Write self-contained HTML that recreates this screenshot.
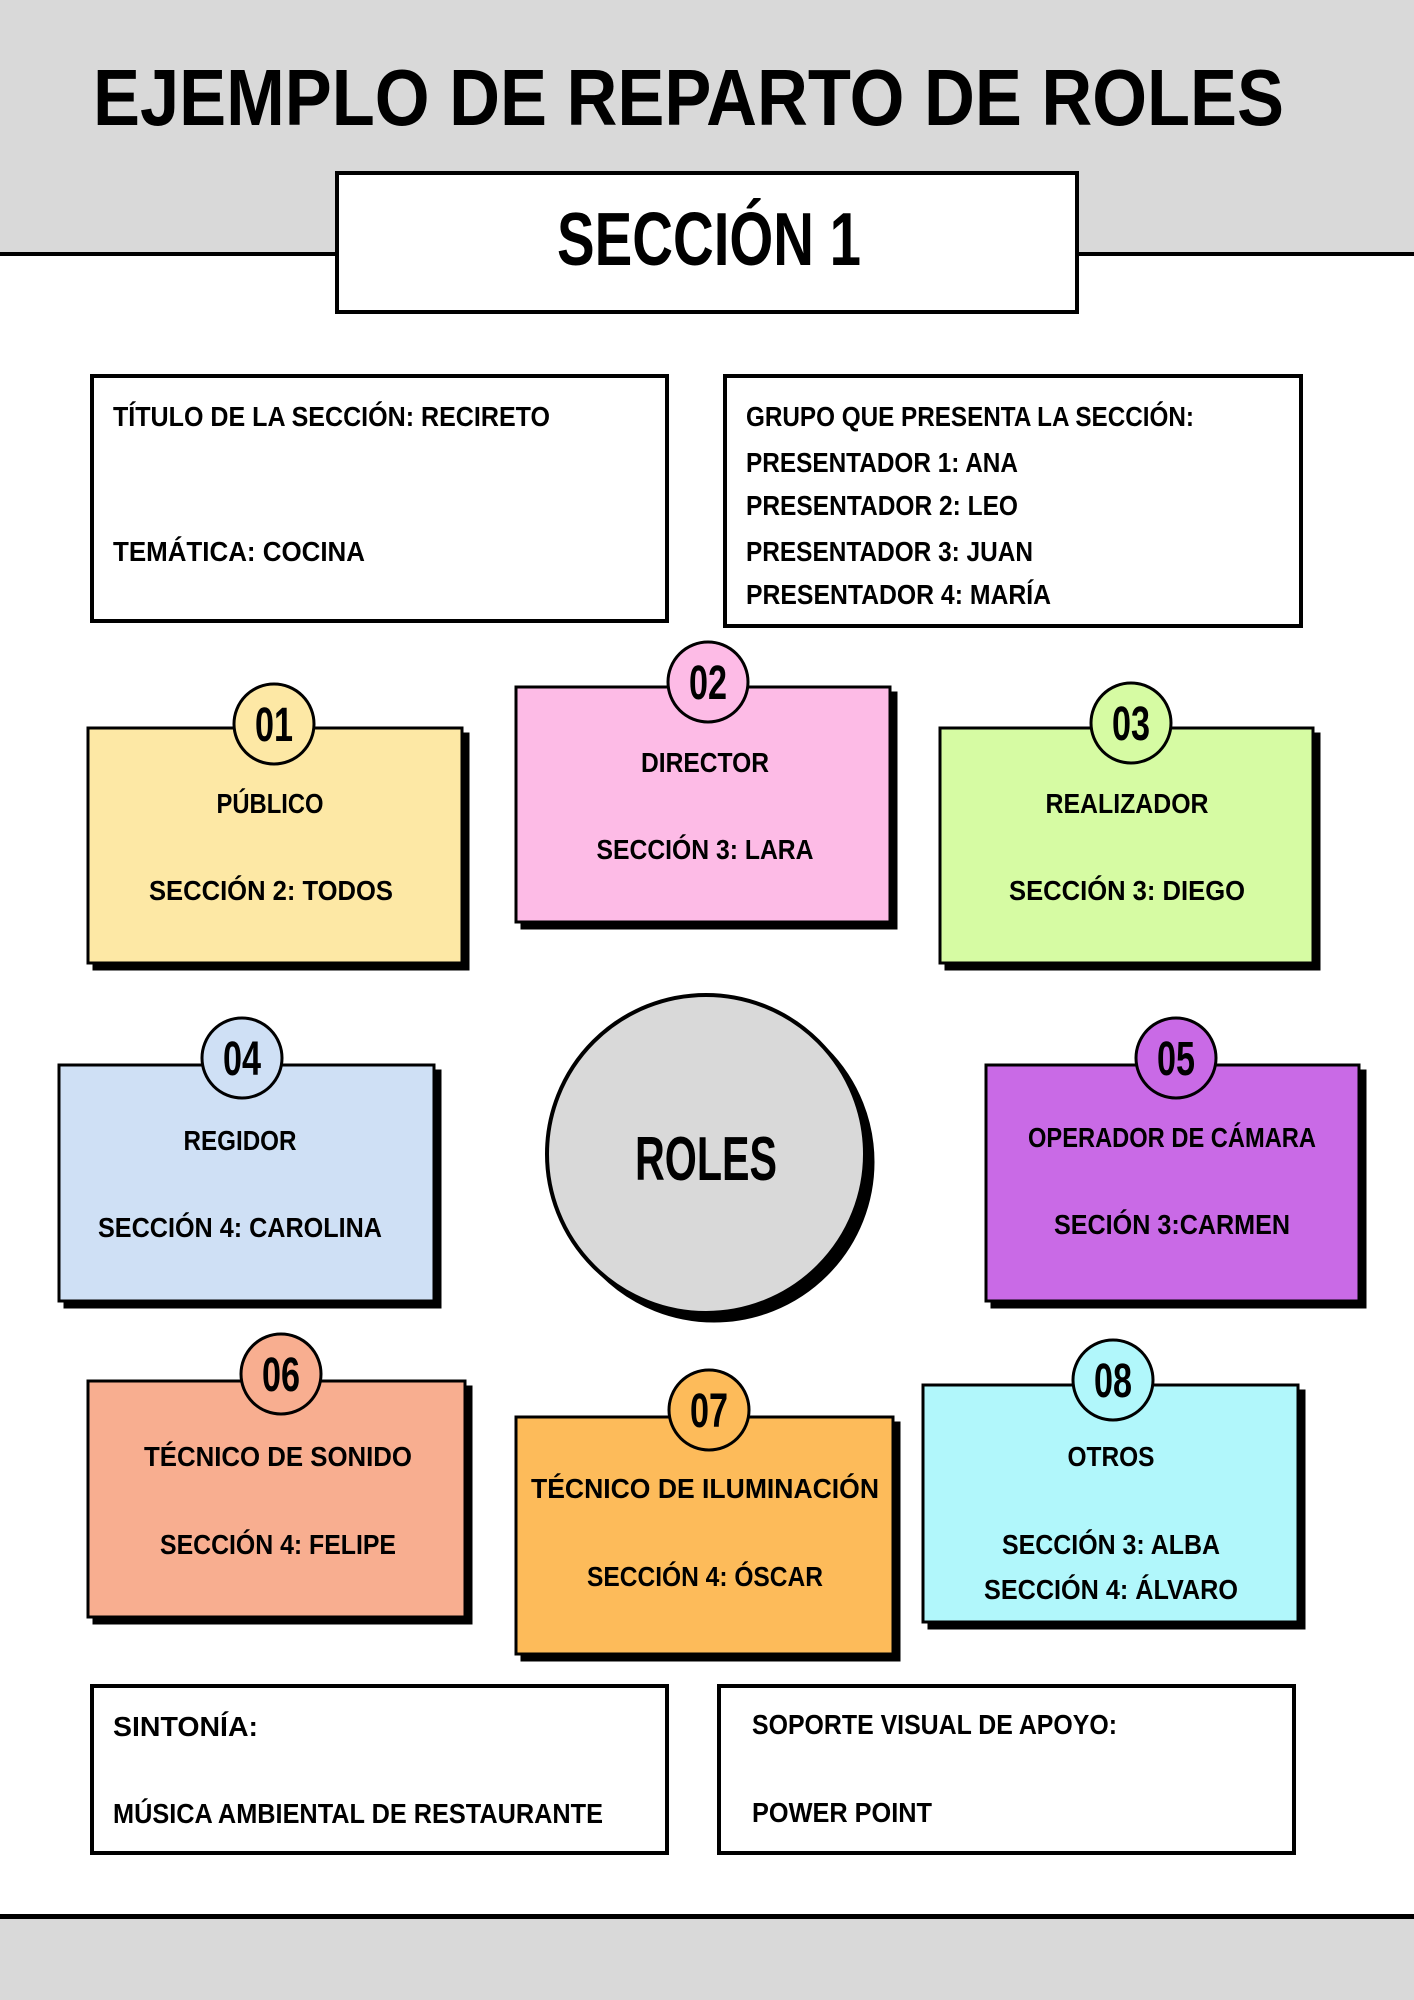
<!DOCTYPE html>
<html><head><meta charset="utf-8"><style>html,body{margin:0;padding:0;background:#fff}svg{display:block}</style></head>
<body>
<svg width="1414" height="2000" viewBox="0 0 1414 2000" xmlns="http://www.w3.org/2000/svg" font-family="'Liberation Sans', sans-serif" font-weight="bold">
<rect x="0" y="0" width="1414" height="254" fill="#d9d9d9"/>
<rect x="0" y="252" width="1414" height="4" fill="#000"/>
<rect x="0" y="1916" width="1414" height="84" fill="#d9d9d9"/>
<rect x="0" y="1914" width="1414" height="5" fill="#000"/>
<text x="93" y="125" font-size="80" textLength="1191" lengthAdjust="spacingAndGlyphs">EJEMPLO DE REPARTO DE ROLES</text>
<rect x="337" y="173" width="740" height="139" fill="#fff" stroke="#000" stroke-width="4"/>
<text x="557" y="265" font-size="75" textLength="304" lengthAdjust="spacingAndGlyphs">SECCIÓN 1</text>

<g font-size="28">
<rect x="92" y="376" width="575" height="245" fill="#fff" stroke="#000" stroke-width="4"/>
<text x="113" y="426" textLength="437" lengthAdjust="spacingAndGlyphs">TÍTULO DE LA SECCIÓN: RECIRETO</text>
<text x="113" y="561" textLength="252" lengthAdjust="spacingAndGlyphs">TEMÁTICA: COCINA</text>
<rect x="725" y="376" width="576" height="250" fill="#fff" stroke="#000" stroke-width="4"/>
<text x="746" y="426" textLength="448" lengthAdjust="spacingAndGlyphs">GRUPO QUE PRESENTA LA SECCIÓN:</text>
<text x="746" y="472" textLength="272" lengthAdjust="spacingAndGlyphs">PRESENTADOR 1: ANA</text>
<text x="746" y="515" textLength="272" lengthAdjust="spacingAndGlyphs">PRESENTADOR 2: LEO</text>
<text x="746" y="561" textLength="287" lengthAdjust="spacingAndGlyphs">PRESENTADOR 3: JUAN</text>
<text x="746" y="604" textLength="305" lengthAdjust="spacingAndGlyphs">PRESENTADOR 4: MARÍA</text>

<!-- cards -->
<g stroke="#000" stroke-width="3">
<rect x="94" y="734" width="374" height="235" fill="#000"/>
<rect x="88" y="728" width="374" height="235" fill="#fde8a5"/>
<circle cx="274" cy="724" r="40" fill="#fde8a5"/>
<rect x="522" y="693" width="374" height="235" fill="#000"/>
<rect x="516" y="687" width="374" height="235" fill="#fdbbe6"/>
<circle cx="708" cy="682" r="40" fill="#fdbbe6"/>
<rect x="946" y="734" width="373" height="235" fill="#000"/>
<rect x="940" y="728" width="373" height="235" fill="#d6fba3"/>
<circle cx="1131" cy="723" r="40" fill="#d6fba3"/>
<rect x="65" y="1071" width="375" height="236" fill="#000"/>
<rect x="59" y="1065" width="375" height="236" fill="#cfe0f5"/>
<circle cx="242" cy="1058" r="40" fill="#cfe0f5"/>
<rect x="992" y="1071" width="373" height="236" fill="#000"/>
<rect x="986" y="1065" width="373" height="236" fill="#c96ae6"/>
<circle cx="1176" cy="1058" r="40" fill="#c96ae6"/>
<rect x="94" y="1387" width="377" height="236" fill="#000"/>
<rect x="88" y="1381" width="377" height="236" fill="#f8ae90"/>
<circle cx="281" cy="1374" r="40" fill="#f8ae90"/>
<rect x="522" y="1423" width="377" height="237" fill="#000"/>
<rect x="516" y="1417" width="377" height="237" fill="#fdbb5a"/>
<circle cx="709" cy="1410" r="40" fill="#fdbb5a"/>
<rect x="929" y="1391" width="375" height="237" fill="#000"/>
<rect x="923" y="1385" width="375" height="237" fill="#b1f7fb"/>
<circle cx="1113" cy="1380" r="40" fill="#b1f7fb"/>
<circle cx="714" cy="1162" r="159" fill="#000"/>
<circle cx="706" cy="1154" r="159" fill="#d9d9d9" stroke-width="4"/>
</g>

<g font-size="48" text-anchor="middle">
<text x="274" y="741" textLength="38" lengthAdjust="spacingAndGlyphs">01</text>
<text x="708" y="699" textLength="38" lengthAdjust="spacingAndGlyphs">02</text>
<text x="1131" y="740" textLength="38" lengthAdjust="spacingAndGlyphs">03</text>
<text x="242" y="1075" textLength="38" lengthAdjust="spacingAndGlyphs">04</text>
<text x="1176" y="1075" textLength="38" lengthAdjust="spacingAndGlyphs">05</text>
<text x="281" y="1391" textLength="38" lengthAdjust="spacingAndGlyphs">06</text>
<text x="709" y="1427" textLength="38" lengthAdjust="spacingAndGlyphs">07</text>
<text x="1113" y="1397" textLength="38" lengthAdjust="spacingAndGlyphs">08</text>
</g>
<text x="706" y="1180" font-size="62" text-anchor="middle" textLength="142" lengthAdjust="spacingAndGlyphs">ROLES</text>

<g text-anchor="middle">
<text x="270" y="813" textLength="107" lengthAdjust="spacingAndGlyphs">PÚBLICO</text>
<text x="271" y="900" textLength="244" lengthAdjust="spacingAndGlyphs">SECCIÓN 2: TODOS</text>
<text x="705" y="772" textLength="128" lengthAdjust="spacingAndGlyphs">DIRECTOR</text>
<text x="705" y="859" textLength="217" lengthAdjust="spacingAndGlyphs">SECCIÓN 3: LARA</text>
<text x="1127" y="813" textLength="163" lengthAdjust="spacingAndGlyphs">REALIZADOR</text>
<text x="1127" y="900" textLength="236" lengthAdjust="spacingAndGlyphs">SECCIÓN 3: DIEGO</text>
<text x="240" y="1150" textLength="113" lengthAdjust="spacingAndGlyphs">REGIDOR</text>
<text x="240" y="1237" textLength="284" lengthAdjust="spacingAndGlyphs">SECCIÓN 4: CAROLINA</text>
<text x="1172" y="1147" textLength="288" lengthAdjust="spacingAndGlyphs">OPERADOR DE CÁMARA</text>
<text x="1172" y="1234" textLength="236" lengthAdjust="spacingAndGlyphs">SECIÓN 3:CARMEN</text>
<text x="278" y="1466" textLength="268" lengthAdjust="spacingAndGlyphs">TÉCNICO DE SONIDO</text>
<text x="278" y="1554" textLength="236" lengthAdjust="spacingAndGlyphs">SECCIÓN 4: FELIPE</text>
<text x="705" y="1498" textLength="348" lengthAdjust="spacingAndGlyphs">TÉCNICO DE ILUMINACIÓN</text>
<text x="705" y="1586" textLength="236" lengthAdjust="spacingAndGlyphs">SECCIÓN 4: ÓSCAR</text>
<text x="1111" y="1466" textLength="87" lengthAdjust="spacingAndGlyphs">OTROS</text>
<text x="1111" y="1554" textLength="218" lengthAdjust="spacingAndGlyphs">SECCIÓN 3: ALBA</text>
<text x="1111" y="1599" textLength="254" lengthAdjust="spacingAndGlyphs">SECCIÓN 4: ÁLVARO</text>
</g>

<rect x="92" y="1686" width="575" height="167" fill="#fff" stroke="#000" stroke-width="4"/>
<text x="113" y="1736" textLength="145" lengthAdjust="spacingAndGlyphs">SINTONÍA:</text>
<text x="113" y="1823" textLength="490" lengthAdjust="spacingAndGlyphs">MÚSICA AMBIENTAL DE RESTAURANTE</text>
<rect x="719" y="1686" width="575" height="167" fill="#fff" stroke="#000" stroke-width="4"/>
<text x="752" y="1734" textLength="365" lengthAdjust="spacingAndGlyphs">SOPORTE VISUAL DE APOYO:</text>
<text x="752" y="1822" textLength="180" lengthAdjust="spacingAndGlyphs">POWER POINT</text>
</g>
</svg>
</body></html>
